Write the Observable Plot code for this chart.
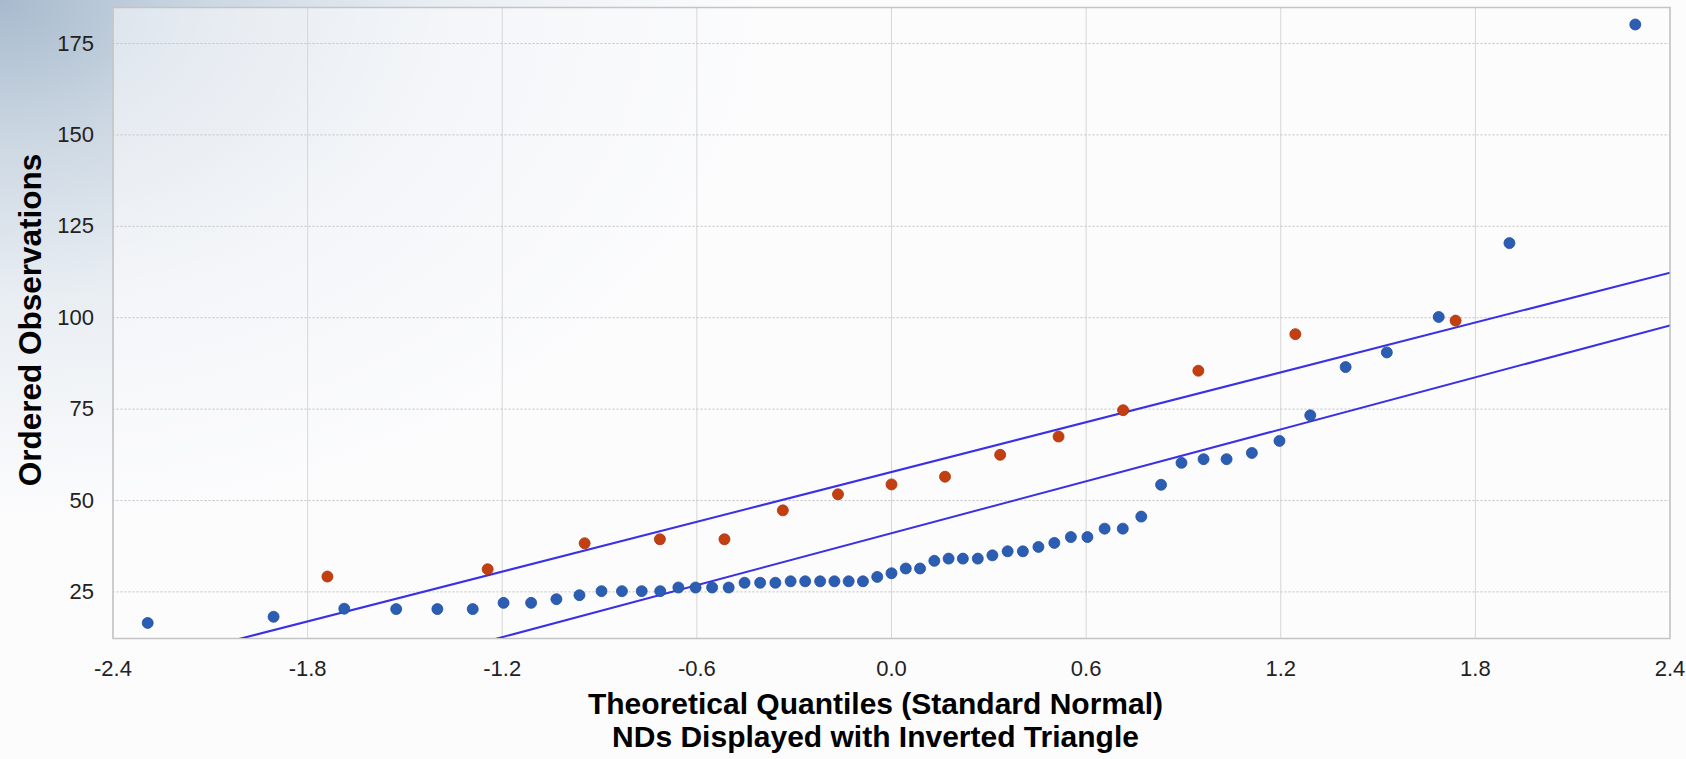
<!DOCTYPE html>
<html>
<head>
<meta charset="utf-8">
<script src="https://cdn.jsdelivr.net/npm/d3@7"></script>
<script src="https://cdn.jsdelivr.net/npm/@observablehq/plot@0.6"></script>
<style>
  html, body { margin: 0; padding: 0; }
  body {
    width: 1686px; height: 759px; overflow: hidden;
    background-color: #fcfcfd;
    background-image: radial-gradient(ellipse 760px 520px at 0 0, #a7bacd 0%, #cdd8e3 28%, #e9eef3 58%, #fcfcfd 100%);
    font-family: "Liberation Sans", Arial, sans-serif;
  }
</style>
</head>
<body>
<div id="chart"></div>
<script>
// Tick values
const xTicks = [-2.4, -1.8, -1.2, -0.6, 0, 0.6, 1.2, 1.8, 2.4];
const yTicks = [25, 50, 75, 100, 125, 150, 175];

// Detected observations (blue): theoretical quantile and ordered value
const detectQ = [-2.293, -1.905, -1.687, -1.527, -1.400, -1.291, -1.196, -1.111, -1.033, -0.962,
  -0.894, -0.831, -0.770, -0.713, -0.657, -0.604, -0.553, -0.502, -0.453, -0.405,
  -0.358, -0.311, -0.266, -0.220, -0.176, -0.132, -0.088, -0.044, 0.000, 0.044,
  0.088, 0.132, 0.176, 0.220, 0.266, 0.311, 0.358, 0.405, 0.453, 0.502,
  0.553, 0.604, 0.657, 0.713, 0.770, 0.831, 0.894, 0.962, 1.033, 1.111,
  1.196, 1.291, 1.400, 1.527, 1.687, 1.905, 2.293];
const detectObs = [16.5, 18.2, 20.4, 20.3, 20.3, 20.3, 22.0, 22.0, 23.0, 24.1,
  25.2, 25.2, 25.2, 25.2, 26.2, 26.2, 26.2, 26.2, 27.5, 27.5,
  27.5, 27.9, 27.9, 27.9, 27.9, 27.9, 27.9, 29.1, 30.1, 31.4,
  31.4, 33.5, 34.1, 34.1, 34.1, 35.0, 36.1, 36.1, 37.3, 38.4,
  40.0, 40.0, 42.3, 42.3, 45.6, 54.3, 60.3, 61.3, 61.3, 63.0,
  66.3, 73.3, 86.5, 90.5, 100.2, 120.4, 180.2];

// Non-detects (red)
const ndQ = [-1.739, -1.245, -0.946, -0.714, -0.515, -0.335, -0.165, 0.000,
  0.165, 0.335, 0.515, 0.714, 0.946, 1.245, 1.739];
const ndObs = [29.2, 31.2, 38.3, 39.4, 39.4, 47.3, 51.7, 54.4,
  56.5, 62.5, 67.5, 74.7, 85.5, 95.5, 99.2];

// Reference lines (end points at the x-domain edges)
const lineQ = [-2.4, 2.4];
const upperLine = [3.3, 112.3];
const lowerLine = [-15.8, 97.9];

const xLabel = "Theoretical Quantiles (Standard Normal)\nNDs Displayed with Inverted Triangle";
const yLabel = "Ordered Observations";

const detects = detectQ.map((q, i) => ({q, v: detectObs[i]}));
const nds = ndQ.map((q, i) => ({q, v: ndObs[i]}));
const upper = lineQ.map((q, i) => ({q, v: upperLine[i]}));
const lower = lineQ.map((q, i) => ({q, v: lowerLine[i]}));

const chart = Plot.plot({
  width: 1686,
  height: 759,
  marginLeft: 112.5,
  marginRight: 16.5,
  marginTop: 7,
  marginBottom: 121,
  style: {background: "transparent", fontFamily: "'Liberation Sans', Arial, sans-serif", fontSize: "22px", color: "#222"},
  x: {domain: [-2.4, 2.4]},
  y: {domain: [12.25, 184.85], axis: null},
  marks: [
    Plot.frame({fill: "#fbfcfd", fillOpacity: 0.55, stroke: null}),
    Plot.gridX(xTicks, {stroke: "#d6d6d6", strokeOpacity: 1, strokeWidth: 1}),
    Plot.gridY(yTicks, {stroke: "#c2c2c2", strokeOpacity: 1, strokeWidth: 1, strokeDasharray: "2,2"}),
    Plot.frame({stroke: "#c4c4c4", strokeWidth: 1.5}),
    Plot.axisX(xTicks, {tickSize: 0, tickPadding: 22, tickFormat: d => d.toFixed(1), label: null, fill: "#222"}),
    // y tick labels, right-aligned a little left of the frame
    Plot.text(yTicks, {y: d => d, frameAnchor: "left", textAnchor: "end", dx: -19, text: d => String(d), fill: "#222", fontSize: 22}),
    Plot.line(upper, {x: "q", y: "v", stroke: "#3b30e6", strokeWidth: 2, clip: true}),
    Plot.line(lower, {x: "q", y: "v", stroke: "#3b30e6", strokeWidth: 2, clip: true}),
    Plot.dot(detects, {x: "q", y: "v", r: 5.5, fill: "#2b5db3", stroke: "#234f9e", strokeWidth: 0.8}),
    Plot.dot(nds, {x: "q", y: "v", r: 5.5, fill: "#c43f10", stroke: "#a8340c", strokeWidth: 0.8}),
    Plot.text([xLabel], {frameAnchor: "bottom", dx: -16, dy: 52, lineAnchor: "top", textAnchor: "middle", lineHeight: 1.1, fontSize: 30, fontWeight: "bold", fill: "#000"}),
    Plot.text([yLabel], {frameAnchor: "left", textAnchor: "middle", dx: -82, dy: -3, rotate: -90, fontSize: 31.5, fontWeight: "bold", fill: "#000"})
  ]
});
document.getElementById("chart").appendChild(chart);
</script>
</body>
</html>
